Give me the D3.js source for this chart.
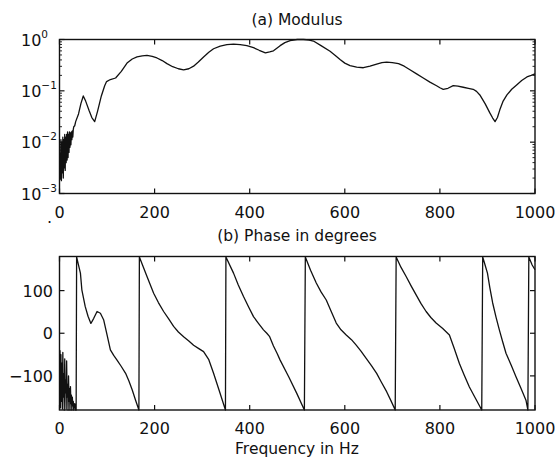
<!DOCTYPE html>
<html><head><meta charset="utf-8">
<script src="https://cdn.jsdelivr.net/npm/d3@7"></script>
<style>
body{margin:0;background:#fff;}
text{font-family:"DejaVu Sans",sans-serif;fill:#111;}
</style></head>
<body><svg id="c" width="556" height="461"></svg>
<script>
// ---- data ----
const xTicks = [0,200,400,600,800,1000];
const modTickExp = [0,-1,-2,-3];
const phaseTicks = [-100,0,100];

const modFreq = [1,2,3,4,5,6,7,8,9,10,11,12,13,14,15,16,17,18,19,20,21,22,23,24,25,26,27,28,29,30,32,34,
 40,45,50,55,62,68,74,80,88,95,99,107,118,130,142,153,163,174,184,195,205,216,226,238,250,261,272,282,292,
 303,314,324,338,352,366,380,394,408,420,433,442,450,457,464,474,485,500,513,525,534,550,569,580,590,600,
 611,625,639,653,667,678,688,700,713,725,737,751,765,779,793,800,807,817,828,838,849,860,870,877,884,895,
 905,911,916,921,926,933,941,951,962,972,983,992,1000];
// log10 of modulus
const modLog10 = [-2.2,-2.72,-1.95,-2.75,-2.0,-2.6,-1.9,-2.7,-1.95,-2.5,-1.85,-2.55,-1.9,-2.4,-1.85,-2.35,-1.8,-2.3,-1.85,-2.2,-1.8,-2.1,-1.82,-2.05,-1.8,-1.95,-1.78,-1.9,-1.75,-1.7,-1.68,-1.6,
 -1.45,-1.25,-1.1,-1.2,-1.38,-1.52,-1.6,-1.4,-1.1,-0.9,-0.82,-0.78,-0.75,-0.62,-0.46,-0.38,-0.34,-0.32,-0.31,-0.33,-0.36,-0.41,-0.47,-0.53,-0.57,-0.59,-0.57,-0.52,-0.44,
 -0.34,-0.25,-0.18,-0.13,-0.10,-0.09,-0.10,-0.12,-0.16,-0.21,-0.26,-0.24,-0.22,-0.17,-0.12,-0.06,-0.02,0.0,0.0,-0.01,-0.03,-0.12,-0.23,-0.31,-0.39,-0.46,
 -0.51,-0.54,-0.55,-0.52,-0.48,-0.45,-0.44,-0.45,-0.47,-0.52,-0.59,-0.67,-0.75,-0.83,-0.9,-0.94,-0.97,-0.95,-0.9,-0.91,-0.93,-0.95,-0.97,-1.01,-1.08,-1.25,
 -1.43,-1.53,-1.6,-1.52,-1.37,-1.2,-1.08,-0.97,-0.88,-0.8,-0.73,-0.7,-0.67];

const phFreq = [1,2,3,4,5,6,7,8,9,10,11,12,13,14,15,16,17,18,19,20,21,22,23,24,25,26,27,28,29,30,32,34,35,
 36,40,44,47,54,60,66,72,79,86,93,100,107,114,121,130,139,146,153,160,167,
 168,176,184,198,208,219,230,240,250,261,272,282,293,303,314,324,336,349,
 350,366,376,387,398,408,418,429,436,442,450,458,464,482,499,515,
 517,528,540,550,561,571,582,592,603,614,624,634,645,656,667,677,688,697,706,
 708,718,729,740,750,760,771,781,792,806,820,830,841,851,862,875,888,
 890,895,900,905,911,918,925,932,939,950,960,970,981,985,
 987,994,1000];
const phDeg = [-40,-175,-50,-160,-70,-178,-45,-150,-95,-180,-60,-140,-110,-178,-65,-150,-120,-180,-100,-160,-130,-180,-125,-165,-145,-180,-150,-170,-160,-180,-165,-180,-180,
 179,160,141,102,63,40,23,35,51,47,31,-4,-39,-52,-63,-78,-94,-112,-133,-157,-180,
 179,156,133,94,72,51,33,16,3,-8,-18,-28,-36,-43,-62,-94,-135,-180,
 179,141,113,86,61,39,24,8,0,-8,-30,-48,-63,-102,-141,-180,
 179,148,118,97,78,52,24,8,-4,-15,-28,-42,-59,-76,-94,-115,-137,-158,-180,
 179,155,133,110,90,70,51,37,24,11,-4,-35,-71,-98,-126,-153,-180,
 179,160,141,107,71,38,8,-20,-47,-75,-102,-128,-157,-180,
 179,160,149];

// ---- drawing ----
const svg = d3.select("#c");
const L = 59.5, R = 535;
const x = d3.scaleLinear().domain([0,1000]).range([L,R]);
const y1 = d3.scaleLog().domain([1e-3,1]).range([193.5,39.5]);
const y2 = d3.scaleLinear().domain([-180,180]).range([410,256.5]);

function frame(top,bottom){
  svg.append("rect").attr("x",L).attr("y",top).attr("width",R-L).attr("height",bottom-top)
    .attr("fill","none").attr("stroke","#111").attr("stroke-width",1.4);
}
function xAxis(top,bottom,labelY){
  const g = svg.append("g");
  xTicks.forEach(t=>{
    g.append("line").attr("x1",x(t)).attr("x2",x(t)).attr("y1",bottom).attr("y2",bottom-5).attr("stroke","#111").attr("stroke-width",1.2);
    g.append("line").attr("x1",x(t)).attr("x2",x(t)).attr("y1",top).attr("y2",top+5).attr("stroke","#111").attr("stroke-width",1.2);
    g.append("text").attr("x",x(t)).attr("y",labelY).attr("text-anchor","middle").attr("font-size",16).text(t);
  });
}

// Top: modulus
const top1 = y1.range()[1], bot1 = y1.range()[0];
frame(top1,bot1);
xAxis(top1,bot1,218);
modTickExp.forEach(e=>{
  const yy = y1(Math.pow(10,e));
  svg.append("line").attr("x1",L).attr("x2",L+5).attr("y1",yy).attr("y2",yy).attr("stroke","#111").attr("stroke-width",1.2);
  svg.append("line").attr("x1",R).attr("x2",R-5).attr("y1",yy).attr("y2",yy).attr("stroke","#111").attr("stroke-width",1.2);
  const t = svg.append("text").attr("x",21).attr("y",yy+6).attr("font-size",16);
  t.append("tspan").text("10");
  t.append("tspan").attr("dy",-8).attr("font-size",10.5).text(e===0?"0":("\u2212"+(-e)));
  if(e<0){
    for(let m=2;m<=9;m++){
      const ym = y1(m*Math.pow(10,e));
      svg.append("line").attr("x1",L).attr("x2",L+2.5).attr("y1",ym).attr("y2",ym).attr("stroke","#111").attr("stroke-width",0.9);
      svg.append("line").attr("x1",R).attr("x2",R-2.5).attr("y1",ym).attr("y2",ym).attr("stroke","#111").attr("stroke-width",0.9);
    }
  }
});
const modData = modFreq.map((f,i)=>({f, v: Math.pow(10, modLog10[i])}));
svg.append("path").datum(modData)
  .attr("d", d3.line().x(d=>x(d.f)).y(d=>y1(d.v)))
  .attr("fill","none").attr("stroke","#111").attr("stroke-width",1.3).attr("stroke-linejoin","round");
svg.append("text").attr("x",297).attr("y",25).attr("text-anchor","middle").attr("font-size",15.5).text("(a) Modulus");

// Bottom: phase
const top2 = y2.range()[1], bot2 = y2.range()[0];
frame(top2,bot2);
xAxis(top2,bot2,434);
phaseTicks.forEach(t=>{
  const yy = y2(t);
  svg.append("line").attr("x1",L).attr("x2",L+5).attr("y1",yy).attr("y2",yy).attr("stroke","#111").attr("stroke-width",1.2);
  svg.append("line").attr("x1",R).attr("x2",R-5).attr("y1",yy).attr("y2",yy).attr("stroke","#111").attr("stroke-width",1.2);
  svg.append("text").attr("x",53).attr("y",yy+6).attr("text-anchor","end").attr("font-size",16).text(t<0?"\u2212"+(-t):t);
});
const phData = phFreq.map((f,i)=>({f, v: phDeg[i]}));
svg.append("path").datum(phData)
  .attr("d", d3.line().x(d=>x(d.f)).y(d=>y2(d.v)))
  .attr("fill","none").attr("stroke","#111").attr("stroke-width",1.3).attr("stroke-linejoin","round");
svg.append("text").attr("x",297).attr("y",241).attr("text-anchor","middle").attr("font-size",15.5).text("(b) Phase in degrees");
svg.append("text").attr("x",297).attr("y",454).attr("text-anchor","middle").attr("font-size",15.5).text("Frequency in Hz");
svg.append("text").attr("x",47).attr("y",223).attr("font-size",16).text(".");
</script></body></html>
